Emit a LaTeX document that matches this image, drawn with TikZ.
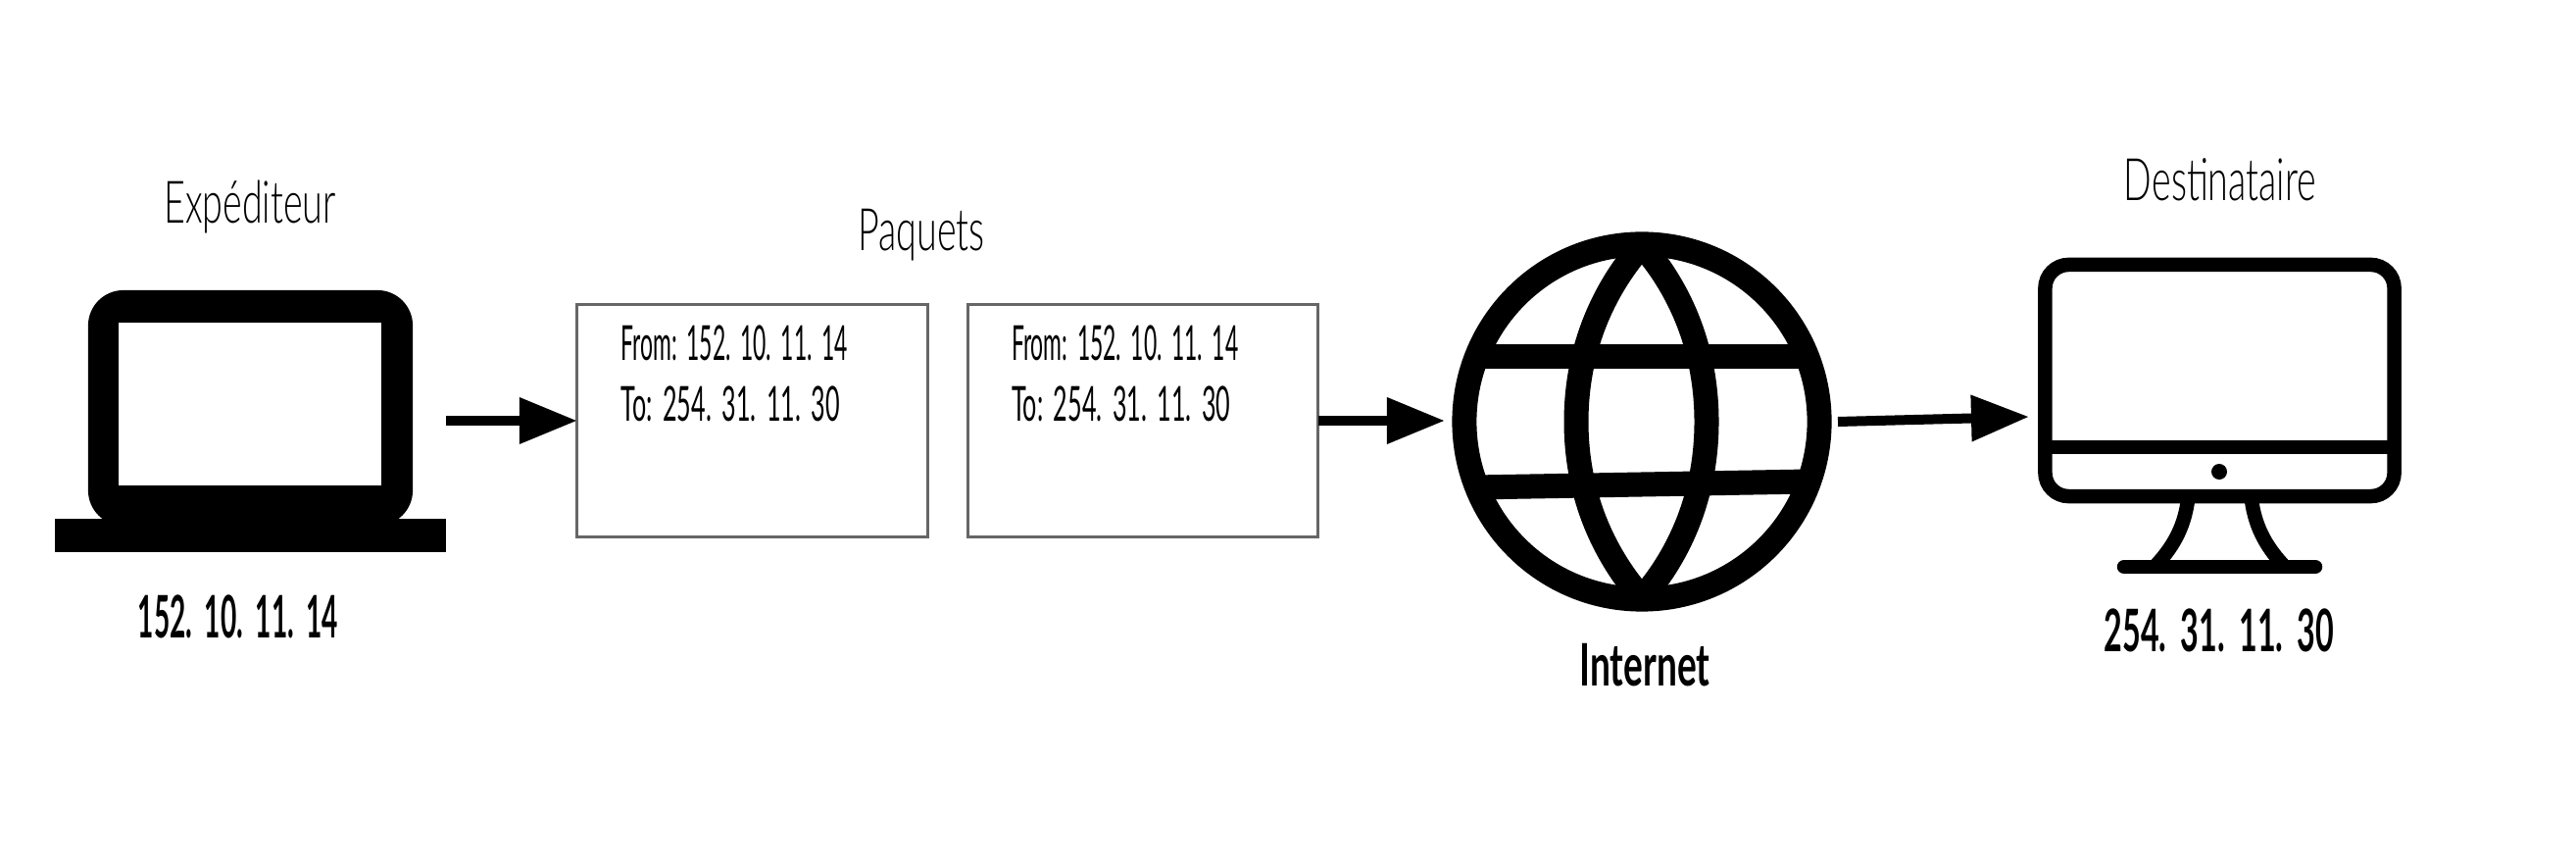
\documentclass[tikz,border=0pt]{standalone}
\usepackage{fontspec}
\usetikzlibrary{arrows.meta}
\setmainfont{Lato}
\newfontfamily\thinhand[FakeStretch=.63]{Lato Light}
\newfontfamily\tighthand[FakeStretch=.47, WordSpace=1.5]{Lato Bold}
\newfontfamily\boldhand[FakeStretch=.54, WordSpace=1.5]{Lato Bold}
\newfontfamily\broadhand[FakeStretch=.62]{Lato Bold}
\newfontfamily\fromhand[FakeStretch=.465, WordSpace=1.3]{Lato}
\newfontfamily\tohand[FakeStretch=.51, WordSpace=1.3]{Lato}
\tikzset{
    title/.style={anchor=base, inner sep=0pt, font=\thinhand\fontsize{17}{17}\selectfont},
    address/.style={anchor=base, inner sep=0pt, font=\fontsize{17}{17}\selectfont},
    header/.style={anchor=base west, inner sep=0pt, font=\fontsize{14}{14}\selectfont},
    packet/.style={draw=black!60, line width=.03cm, minimum width=3.57cm, minimum height=2.36cm, outer sep=0pt},
    solid box/.style={fill=black, outer sep=0pt, inner sep=0pt},
    link/.style={line width=.1cm, -{Triangle[length=.59cm, width=.45cm]}},
    globe line/.style={line width=.25cm},
    screen line/.style={line width=.145cm},
}
\begin{document}
\begin{tikzpicture}[x=.01cm, y=-.01cm]

    \useasboundingbox (0,0) rectangle (2628,880);

    % sender
    \node[solid box, rounded corners=.36cm, minimum width=3.31cm, minimum height=2.4cm] (laptop) at (255.5,416) {};
    \node[fill=white, inner sep=0pt, minimum width=2.68cm, minimum height=1.66cm] (laptopscreen) at (255,412) {};
    \node[solid box, minimum width=3.99cm, minimum height=.34cm] (laptopbase) at (255.5,546) {};
    \node[title] (sendername) at (255,228) {Expéditeur};
    \node[address] (senderip) at (243,651) {\tighthand 152. 10. 11. 14};
    \coordinate (laptopout) at (455,429);

    % packets
    \node[packet] (box1) at (767.5,429) {};
    \node[packet] (box2) at (1166,429) {};
    \node[title] (packetsname) at (940,256) {Paquets};
    \foreach \n in {1,2}{
        \node[header] (from\n) at ([xshift=.44cm, yshift=-.57cm]box\n.north west) {\fromhand From: 152. 10. 11. 14};
        \node[header] (to\n) at ([xshift=.44cm, yshift=-1.19cm]box\n.north west) {\tohand To: 254. 31. 11. 30};
    }

    % internet
    \node[circle, draw, globe line, minimum size=3.62cm, outer sep=0pt] (globe) at (1675,430) {};
    \draw[globe line] (1507,364) -- (1843,364);
    \draw[globe line] (1505,497) -- (1845,491);
    \draw[globe line] (1675,250) .. controls (1640,290) and (1608,350) .. (1608,430)
                                 .. controls (1608,510) and (1640,570) .. (1675,610);
    \draw[globe line] (1675,250) .. controls (1710,290) and (1741,350) .. (1741,430)
                                 .. controls (1741,510) and (1710,570) .. (1675,610);
    \node[address] (internetname) at (1678,700) {\broadhand Internet};
    \coordinate (globein) at (1474,429);
    \coordinate (globeout) at (1875,430);

    % receiver
    \node[draw, screen line, rounded corners=.24cm, minimum width=3.56cm, minimum height=2.36cm, outer sep=0pt] (monitor) at (2264.5,388) {};
    \draw[screen line] (monitor.west |- 0,456) -- (monitor.east |- 0,456);
    \node[circle, solid box, minimum size=.16cm] (monitordot) at (2264,481) {};
    \draw[screen line] (2232,510) .. controls (2228,540) and (2215,560) .. (2198,578);
    \draw[screen line] (2297,510) .. controls (2301,540) and (2314,560) .. (2331,578);
    \draw[screen line, line cap=round] (2167,578) -- (2362,578);
    \node[title] (receivername) at (2265,205) {Destinataire};
    \node[address] (receiverip) at (2264,665) {\boldhand 254. 31. 11. 30};
    \coordinate (monitorin) at (2070,425);

    \draw[link] (laptopout) -- (box1.west);
    \draw[link] (box2.east) -- (globein);
    \draw[link] (globeout) -- (monitorin);

\end{tikzpicture}
\end{document}
